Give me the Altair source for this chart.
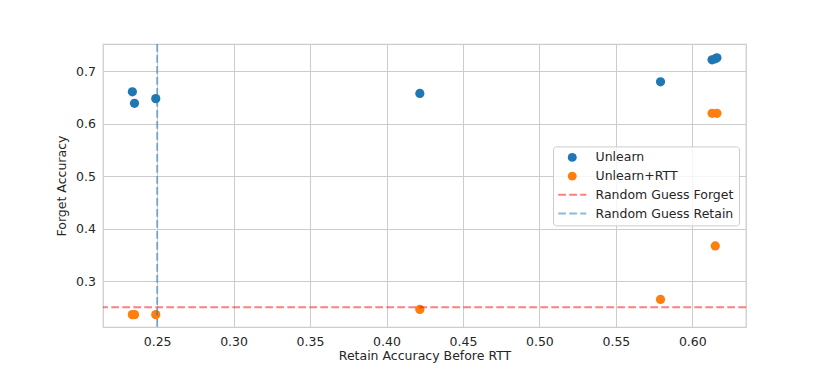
import altair as alt
import pandas as pd

# ---- data ----
retain_acc = [0.2338, 0.2352, 0.2491, 0.4218, 0.5792, 0.6129, 0.6161, 0.6150]
forget_unlearn = [0.661, 0.639, 0.648, 0.658, 0.680, 0.722, 0.726, 0.724]
forget_unlearn_rtt = [0.236, 0.236, 0.236, 0.246, 0.265, 0.620, 0.620, 0.367]

series_names = ["Unlearn", "Unlearn+RTT", "Random Guess Forget", "Random Guess Retain"]
series_colors = ["#1f77b4", "#ff7f0e", "#ff0000", "#1f77b4"]

random_guess_forget = [0.25]
random_guess_retain = [0.25]

x_ticks = [0.25, 0.30, 0.35, 0.40, 0.45, 0.50, 0.55, 0.60]
y_ticks = [0.3, 0.4, 0.5, 0.6, 0.7]
x_domain = [0.2146, 0.6351]
y_domain = [0.2124, 0.7522]

points = pd.DataFrame({
    "retain": retain_acc + retain_acc,
    "forget": forget_unlearn + forget_unlearn_rtt,
    "series": ["Unlearn"] * len(retain_acc) + ["Unlearn+RTT"] * len(retain_acc),
})
hline = pd.DataFrame({"forget": random_guess_forget, "series": ["Random Guess Forget"]})
vline = pd.DataFrame({"retain": random_guess_retain, "series": ["Random Guess Retain"]})

FONT = "DejaVu Sans"
TXT = "#262626"

is_dot = "(datum.value == 'Unlearn' || datum.value == 'Unlearn+RTT')"
legend = alt.Legend(
    title=None,
    orient="none",
    legendX=450,
    legendY=102.4,
    direction="vertical",
    fillColor="rgba(255,255,255,0.8)",
    strokeColor="#cccccc",
    cornerRadius=3,
    padding=5,
    labelFont=FONT,
    labelFontSize=12.5,
    labelColor=TXT,
    labelOffset=17,
    symbolOffset=8,
    symbolType={"expr": f"{is_dot} ? 'circle' : 'stroke'"},
    symbolSize={"expr": f"{is_dot} ? 80 : 784"},
    symbolFillColor={"expr": f"{is_dot} ? scale('color', datum.value) : 'transparent'"},
    symbolStrokeColor={"expr": "scale('color', datum.value)"},
    symbolDash={"expr": f"{is_dot} ? [1, 0] : [7.7, 3.3]"},
    symbolStrokeWidth={"expr": f"{is_dot} ? 0 : 2"},
    symbolOpacity={"expr": f"{is_dot} ? 1 : 0.5"},
    clipHeight=12,
    rowPadding=5.7,
)

color = alt.Color(
    "series:N",
    scale=alt.Scale(domain=series_names, range=series_colors),
    legend=legend,
)

x_scale = alt.Scale(domain=x_domain, nice=False, zero=False)
y_scale = alt.Scale(domain=y_domain, nice=False, zero=False)
x_axis = alt.Axis(values=x_ticks, format=".2f")
y_axis = alt.Axis(values=y_ticks, format=".1f")
X_TITLE = "Retain Accuracy Before RTT"
Y_TITLE = "Forget Accuracy"

pts = alt.Chart(points).mark_circle(size=85, opacity=1).encode(
    x=alt.X("retain:Q", scale=x_scale, axis=x_axis, title=X_TITLE),
    y=alt.Y("forget:Q", scale=y_scale, axis=y_axis, title=Y_TITLE),
    color=color,
)

h = alt.Chart(hline).mark_rule(strokeDash=[7.7, 3.3], strokeWidth=2, opacity=0.5).encode(
    y=alt.Y("forget:Q", scale=y_scale, axis=y_axis, title=Y_TITLE),
    color=color,
)

v = alt.Chart(vline).mark_rule(strokeDash=[7.7, 3.3], strokeWidth=2, opacity=0.5).encode(
    x=alt.X("retain:Q", scale=x_scale, axis=x_axis, title=X_TITLE),
    color=color,
)

chart = (
    alt.layer(pts, h, v)
    .properties(
        width=643,
        height=283,
        autosize=alt.AutoSizeParams(type="none"),
        padding={"left": 95, "top": 36, "right": 76, "bottom": 40},
        background="white",
    )
    .configure(font=FONT)
    .configure_view(stroke="#cccccc", strokeWidth=1.25)
    .configure_axis(
        grid=True,
        gridColor="#cccccc",
        gridWidth=1,
        domain=False,
        ticks=False,
        labelFont=FONT,
        labelFontSize=12.5,
        labelColor=TXT,
        titleFont=FONT,
        titleFontSize=12.5,
        titleFontWeight="normal",
        titleColor=TXT,
    )
    .configure_axisX(labelPadding=8, titlePadding=2)
    .configure_axisY(labelPadding=7.6, titlePadding=7)
)

chart.save("out.html", embed_options={"renderer": "svg", "actions": False})
